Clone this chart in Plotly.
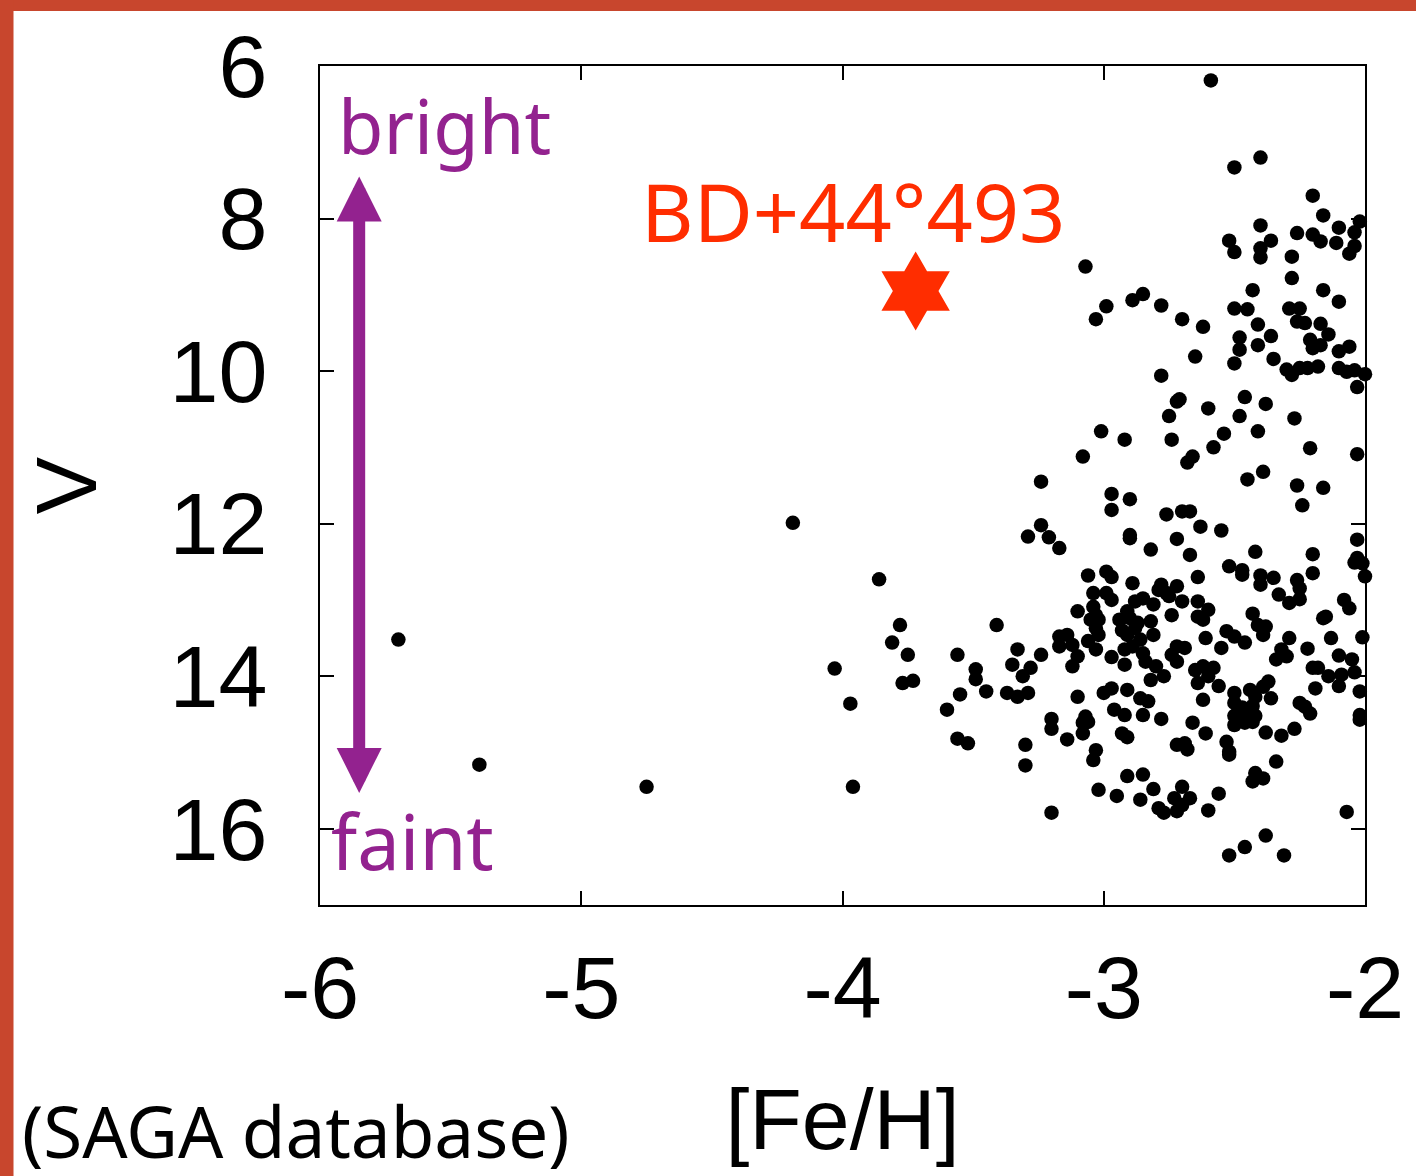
import plotly.graph_objects as go

# ---- data ----
feh = [
    -2.59, -2.50, -2.40, -2.20, -2.16, -2.02, -2.10, -2.04, -2.40, -2.26,
    -2.20, -2.17, -2.11, -2.04, -2.06, -2.52, -2.50, -2.36, -2.40, -2.40,
    -2.28, -3.07, -2.28, -2.43, -2.16, -2.10, -2.85, -2.89, -2.99, -2.78,
    -2.50, -2.45, -2.29, -2.25, -3.03, -2.70, -2.62, -2.41, -2.26, -2.23,
    -2.17, -2.14, -2.36, -2.48, -2.41, -2.48, -2.21, -2.17, -2.20, -2.06,
    -2.10, -2.65, -2.50, -2.35, -2.30, -2.28, -2.25, -2.22, -2.18, -2.10,
    -2.07, -2.04, -2.00, -2.03, -2.78, -2.71, -2.72, -2.46, -2.38, -2.60,
    -2.75, -2.48, -2.27, -3.01, -2.92, -2.74, -2.54, -2.41, -2.58, -2.21,
    -2.03, -3.08, -2.66, -2.68, -3.24, -2.39, -2.45, -2.26, -2.16, -2.24,
    -2.97, -2.97, -2.90, -2.76, -2.70, -2.67, -2.63, -2.55, -2.90, -2.90,
    -2.72, -3.24, -3.21, -3.17, -2.82, -2.67, -2.42, -2.20, -2.03, -2.03,
    -3.29, -2.04, -2.01, -2.00, -2.20, -2.52, -2.47, -2.47, -2.40, -2.40,
    -2.35, -2.26, -2.25, -2.25, -2.29, -2.33, -2.64, -3.06, -2.99, -2.97,
    -2.89, -2.78, -2.72, -2.76, -2.79, -2.75, -2.70, -2.64, -2.60, -2.64,
    -2.62, -3.04, -2.99, -2.97, -3.04, -3.03, -3.05, -3.02, -3.10, -2.88,
    -2.85, -2.81, -2.91, -2.94, -2.90, -2.74, -2.82, -2.81, -2.88, -2.91,
    -2.86, -2.89, -3.03, -3.02, -3.17, -3.14, -3.17, -3.12, -3.06, -3.03,
    -3.10, -3.12, -3.24, -2.97, -2.92, -2.92, -2.85, -2.84, -2.80, -2.82,
    -2.77, -2.61, -2.55, -2.72, -2.69, -2.74, -2.72, -2.53, -2.50, -2.46,
    -2.43, -2.41, -2.38, -2.39, -2.29, -2.32, -2.30, -2.34, -2.22, -2.16,
    -2.15, -2.08, -2.06, -2.13, -2.01, -2.10, -2.05, -2.04, -2.09, -2.14,
    -2.20, -2.18, -2.19, -2.02, -2.10, -2.65, -2.62, -2.58, -2.64, -2.60,
    -2.56, -2.62, -3.10, -3.00, -2.97, -2.91, -2.86, -2.83, -2.25, -2.23,
    -2.50, -2.50, -2.47, -2.44, -2.42, -2.39, -2.37, -2.36, -2.43, -2.42,
    -2.45, -2.50, -3.20, -3.20, -3.14, -3.07, -3.08, -3.06, -3.08, -2.96,
    -2.92, -2.85, -2.78, -2.93, -2.91, -3.03, -3.04, -2.66, -2.61, -2.50,
    -2.46, -2.43, -2.38, -2.32, -2.27, -2.72, -2.69, -2.68, -2.53, -2.52,
    -2.52, -2.34, -2.42, -2.39, -2.43, -2.91, -2.85, -3.02, -2.95, -2.86,
    -2.81, -2.70, -2.73, -2.67, -2.70, -2.79, -2.77, -2.72, -2.60, -2.56,
    -3.20, -2.07, -2.38, -2.46, -2.52, -2.31, -2.21, -2.02, -2.02, -3.41,
    -3.56, -3.49, -3.49, -3.33, -3.35, -3.28, -3.31, -3.55, -3.45, -3.37,
    -3.33, -3.29, -3.60, -3.56, -3.52, -3.30, -3.30, -5.70, -5.39, -4.75,
    -4.19, -3.86, -3.78, -3.81, -3.75, -3.77, -3.73, -4.03, -3.97, -3.96,
    -2.93, -2.87,
]
v_mag = [
    6.19, 7.33, 7.20, 7.70, 7.96, 8.04, 8.12, 8.18, 8.09, 8.19,
    8.21, 8.30, 8.32, 8.36, 8.46, 8.29, 8.44, 8.29, 8.39, 8.51,
    8.50, 8.63, 8.78, 8.94, 8.94, 9.09, 8.99, 9.07, 9.15, 9.14,
    9.18, 9.19, 9.18, 9.18, 9.32, 9.32, 9.42, 9.39, 9.35, 9.37,
    9.38, 9.52, 9.54, 9.56, 9.66, 9.72, 9.59, 9.66, 9.70, 9.68,
    9.74, 9.81, 9.90, 9.84, 9.98, 10.05, 9.96, 9.96, 9.94, 9.96,
    10.01, 9.99, 10.04, 10.21, 10.06, 10.37, 10.40, 10.34, 10.43, 10.49,
    10.59, 10.59, 10.62, 10.79, 10.90, 10.90, 10.82, 10.79, 11.00, 11.01,
    11.09, 11.12, 11.12, 11.20, 11.45, 11.32, 11.42, 11.50, 11.53, 11.76,
    11.61, 11.82, 11.68, 11.88, 11.84, 11.84, 12.04, 12.09, 12.15, 12.19,
    12.20, 12.02, 12.18, 12.32, 12.34, 12.41, 12.37, 12.40, 12.21, 12.45,
    12.17, 12.51, 12.52, 12.69, 12.65, 12.56, 12.61, 12.67, 12.68, 12.80,
    12.71, 12.74, 12.85, 12.99, 13.04, 12.93, 12.70, 12.68, 12.63, 12.70,
    12.78, 12.80, 12.82, 12.91, 12.87, 12.95, 13.02, 13.02, 13.13, 13.22,
    13.26, 12.91, 12.91, 13.00, 13.09, 13.20, 13.26, 13.26, 13.15, 13.02,
    12.98, 13.06, 13.15, 13.26, 13.24, 13.20, 13.28, 13.46, 13.37, 13.46,
    13.52, 13.61, 13.37, 13.46, 13.48, 13.46, 13.61, 13.59, 13.54, 13.65,
    13.74, 13.87, 13.72, 13.75, 13.65, 13.85, 13.70, 13.81, 13.87, 14.05,
    14.00, 13.50, 13.63, 13.61, 13.63, 13.72, 13.81, 13.41, 13.48, 13.56,
    13.18, 13.33, 13.35, 13.46, 13.50, 13.65, 13.74, 13.78, 13.64, 13.24,
    13.22, 13.00, 13.11, 13.50, 13.49, 13.73, 13.78, 13.95, 13.98, 14.00,
    13.89, 13.89, 14.16, 14.20, 14.13, 13.92, 13.87, 13.89, 14.09, 14.00,
    14.13, 14.31, 14.27, 14.22, 14.16, 14.18, 14.29, 14.33, 14.35, 14.40,
    14.22, 14.35, 14.41, 14.18, 14.27, 14.14, 14.07, 14.29, 14.39, 14.52,
    14.54, 14.52, 14.56, 14.69, 14.83, 14.53, 14.61, 14.60, 14.75, 14.44,
    14.51, 14.51, 14.56, 14.75, 14.80, 14.97, 15.10, 14.61, 14.75, 14.64,
    14.61, 14.60, 14.74, 14.78, 14.69, 14.90, 14.88, 14.96, 14.86, 14.99,
    15.03, 15.12, 15.27, 15.34, 15.38, 15.31, 15.29, 15.49, 15.57, 15.62,
    15.48, 15.45, 15.60, 15.60, 15.69, 15.73, 15.79, 15.77, 15.76, 15.54,
    15.79, 15.78, 16.09, 16.24, 16.35, 16.35, 14.49, 14.51, 14.57, 13.33,
    13.72, 13.91, 14.04, 13.65, 13.85, 13.89, 14.00, 14.24, 14.20, 14.22,
    14.27, 14.22, 14.44, 14.82, 14.88, 14.90, 15.17, 13.52, 15.16, 15.45,
    11.99, 12.73, 13.33, 13.56, 13.72, 14.09, 14.06, 13.90, 14.36, 15.45,
    13.40, 13.30,
]

star_name = "BD+44°493"
star_feh = [-3.72]
star_v = [8.95]

x_ticks = [-6, -5, -4, -3, -2]
y_ticks = [6, 8, 10, 12, 14, 16]

# arrow from "faint" (bottom) to "bright" (top), data coordinates
arrow_feh = -5.85
arrow_bright_v = 7.45
arrow_faint_v = 15.55

PURPLE = "#93228F"
STARRED = "#FF2D00"
BORDER = "#C8462D"

fig = go.Figure()
fig.add_trace(go.Scatter(
    x=feh, y=v_mag, mode="markers",
    marker=dict(color="black", size=14.5, line=dict(width=0)),
    cliponaxis=False, showlegend=False, hoverinfo="x+y",
))
fig.add_trace(go.Scatter(
    x=star_feh, y=star_v, mode="markers",
    marker=dict(color=STARRED, symbol="hexagram", size=60, line=dict(width=0)),
    cliponaxis=False, showlegend=False, name=star_name,
))

axis_common = dict(
    showline=True, linecolor="black", linewidth=2, mirror="ticks",
    ticks="inside", ticklen=14, tickwidth=2, tickcolor="black",
    showgrid=False, zeroline=False,
    tickfont=dict(family="Liberation Sans, Arial, sans-serif", size=88, color="black"),
    title_font=dict(family="Liberation Sans, Arial, sans-serif", size=86, color="black"),
)

fig.update_xaxes(
    range=[-6, -2], tickvals=x_ticks, ticktext=[str(t) for t in x_ticks],
    title_text="[Fe/H]", title_standoff=53, ticklabelstandoff=5, **axis_common,
)
fig.update_yaxes(
    range=[17, 6], tickvals=y_ticks, ticktext=[str(t) for t in y_ticks],
    title_text="V", title_standoff=44, ticklabelstandoff=33, **axis_common,
)

fig.add_annotation(
    x=arrow_feh, y=arrow_bright_v, ax=arrow_feh, ay=arrow_faint_v,
    xref="x", yref="y", axref="x", ayref="y", text="",
    showarrow=True, arrowhead=2, startarrowhead=2, arrowside="end+start",
    arrowwidth=12, arrowsize=0.75, startarrowsize=0.75, arrowcolor=PURPLE,
)

text_font = "Noto Sans, Open Sans, sans-serif"
fig.add_annotation(x=0.0152, y=0.929, xref="paper", yref="paper", text="bright",
                   showarrow=False, xanchor="left", yanchor="middle",
                   font=dict(family=text_font, size=74, color=PURPLE))
fig.add_annotation(x=0.0085, y=0.0765, xref="paper", yref="paper", text="faint",
                   showarrow=False, xanchor="left", yanchor="middle",
                   font=dict(family=text_font, size=76, color=PURPLE))
fig.add_annotation(x=0.5105, y=0.8275, xref="paper", yref="paper", text=star_name,
                   showarrow=False, xanchor="center", yanchor="middle",
                   font=dict(family=text_font, size=81, color=STARRED))
fig.add_annotation(x=-0.2867, y=-0.2685, xref="paper", yref="paper", text="(SAGA database)",
                   showarrow=False, xanchor="left", yanchor="middle",
                   font=dict(family=text_font, size=71, color="black"))

# red-orange frame strips (top and left) around the white slide area
fig.add_shape(type="rect", xref="paper", yref="paper", x0=-0.32, x1=1.06,
              y0=1.0656, y1=1.10, fillcolor=BORDER, line=dict(width=0), layer="above")
fig.add_shape(type="rect", xref="paper", yref="paper", x0=-0.32, x1=-0.2933,
              y0=-0.35, y1=1.10, fillcolor=BORDER, line=dict(width=0), layer="above")

fig.update_layout(
    width=1416, height=1176,
    margin=dict(l=320, r=46, t=66, b=271, pad=0),
    paper_bgcolor="white", plot_bgcolor="white",
    showlegend=False,
)

fig.write_html(
    "out.html",
    config={"displayModeBar": False},
    post_script="document.body.style.margin='0px';document.body.style.padding='0px';document.body.style.overflow='hidden';",
)
